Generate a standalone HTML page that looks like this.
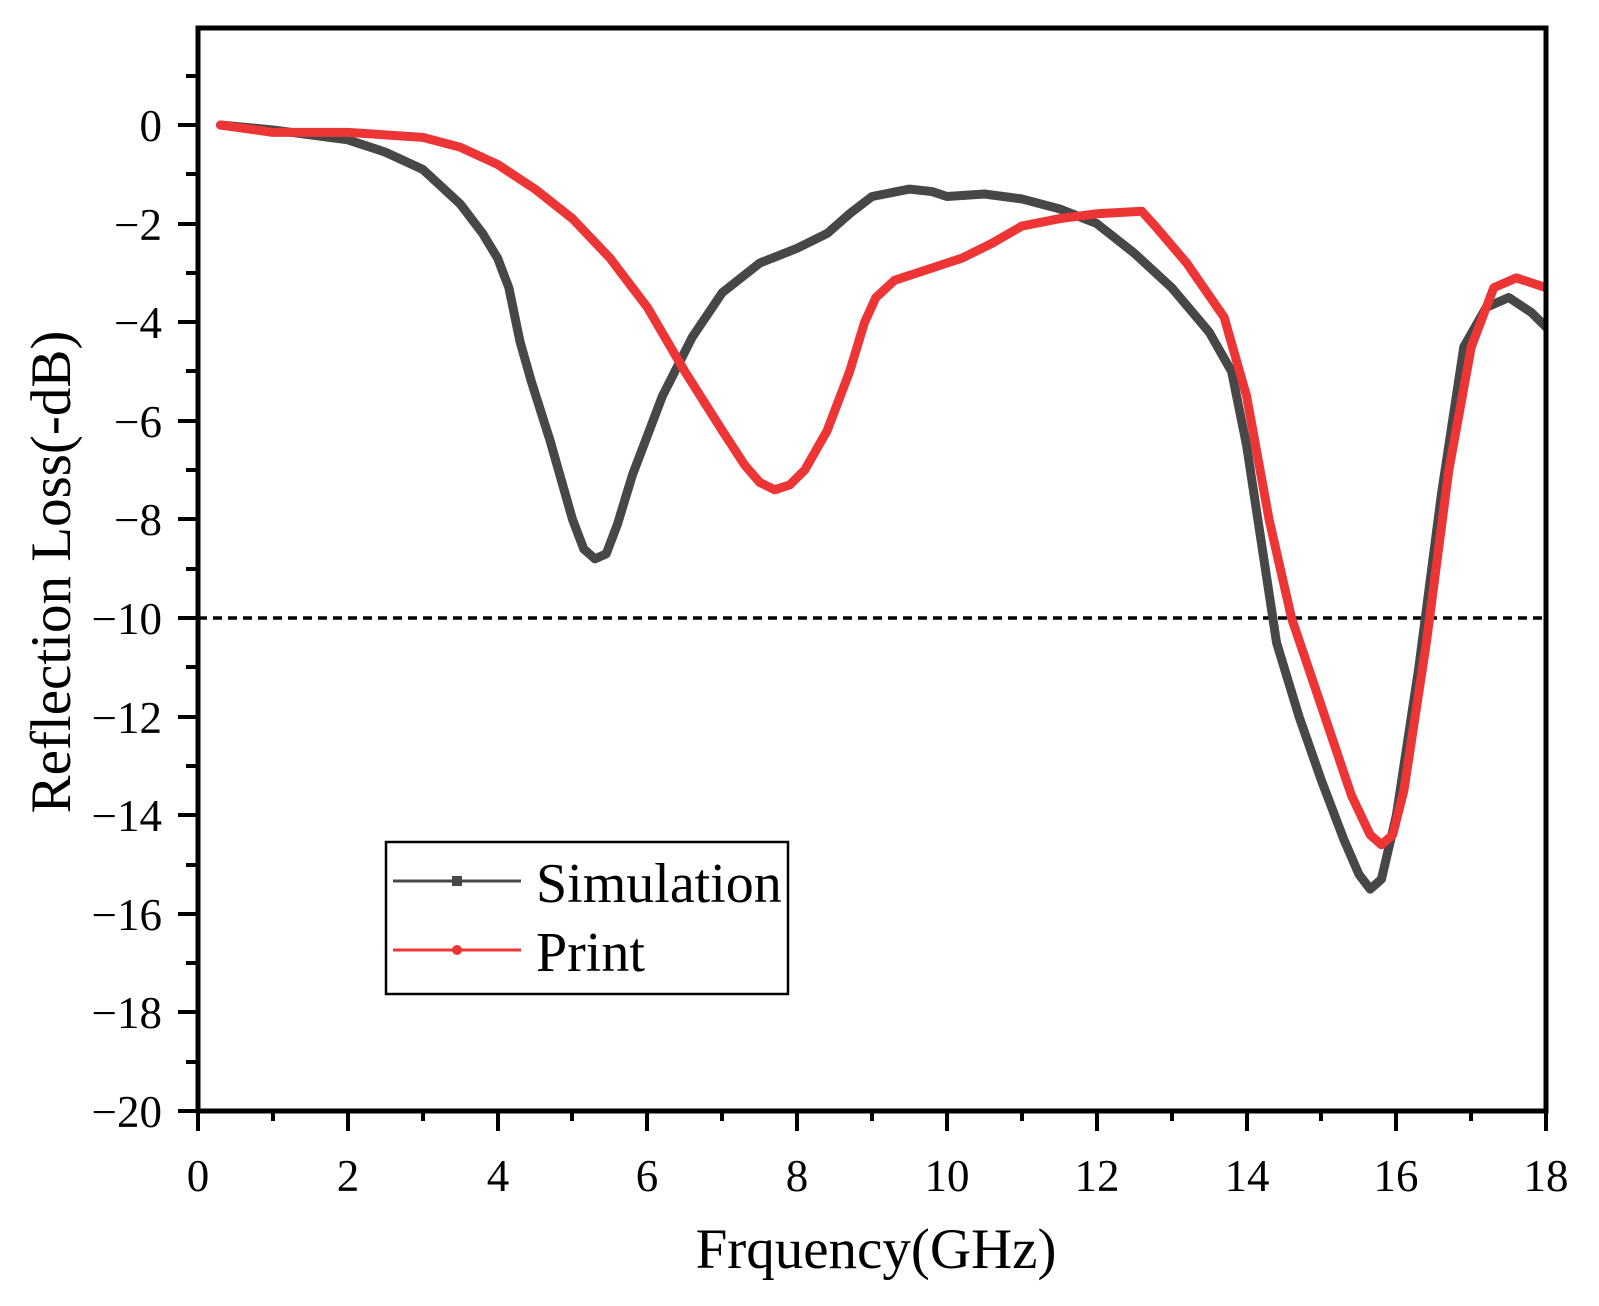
<!DOCTYPE html>
<html><head><meta charset="utf-8"><style>
body{margin:0;background:#fff}
text{font-family:"Liberation Serif",serif;fill:#000}
</style></head><body>
<svg width="1599" height="1301" viewBox="0 0 1599 1301" xmlns="http://www.w3.org/2000/svg">
<defs><clipPath id="c"><rect x="198" y="28" width="1348" height="1083"/></clipPath></defs>
<line x1="198" y1="618" x2="1546" y2="618" stroke="#000" stroke-width="3.5" stroke-dasharray="9,6"/>
<g clip-path="url(#c)">
<g transform="translate(198,125) scale(74.9,-49.3)">
<polyline fill="none" stroke="#474747" stroke-width="9" stroke-linejoin="round" stroke-linecap="round" vector-effect="non-scaling-stroke"
points="0.3,0 1,-0.1 2,-0.3 2.5,-0.55 3,-0.9 3.5,-1.6 3.8,-2.2 4,-2.7 4.15,-3.3 4.3,-4.4 4.45,-5.2 4.7,-6.4 5,-8 5.15,-8.6 5.3,-8.8 5.45,-8.7 5.6,-8.1 5.8,-7.1 6.2,-5.5 6.6,-4.3 7,-3.4 7.5,-2.8 8,-2.5 8.4,-2.2 8.7,-1.8 9,-1.45 9.5,-1.3 9.8,-1.35 10,-1.45 10.5,-1.4 11,-1.5 11.5,-1.7 12,-2 12.5,-2.6 13,-3.3 13.5,-4.2 13.8,-5 14,-6.5 14.2,-8.5 14.4,-10.5 14.7,-12 15,-13.3 15.3,-14.5 15.5,-15.2 15.65,-15.5 15.8,-15.3 16,-14 16.3,-11 16.6,-7.5 16.9,-4.5 17.2,-3.7 17.5,-3.5 17.8,-3.8 18,-4.1"/>
<polyline fill="none" stroke="#ee3535" stroke-width="9" stroke-linejoin="round" stroke-linecap="round" vector-effect="non-scaling-stroke"
points="0.3,0 1,-0.15 2,-0.15 3,-0.25 3.5,-0.45 4,-0.8 4.5,-1.3 5,-1.9 5.5,-2.7 6,-3.7 6.5,-5 7,-6.2 7.3,-6.9 7.5,-7.25 7.7,-7.4 7.9,-7.3 8.1,-7 8.4,-6.2 8.7,-5 8.9,-4 9.05,-3.5 9.3,-3.15 9.8,-2.9 10.2,-2.7 10.6,-2.4 11,-2.05 11.5,-1.9 12,-1.8 12.6,-1.75 12.75,-2 13.2,-2.8 13.7,-3.9 14,-5.5 14.3,-8 14.6,-10 15,-11.8 15.4,-13.6 15.65,-14.4 15.8,-14.6 15.95,-14.4 16.1,-13.5 16.4,-10.5 16.7,-7 17,-4.5 17.3,-3.3 17.6,-3.1 17.8,-3.2 18,-3.3"/>
</g></g>
<rect x="198" y="28" width="1348" height="1083" fill="none" stroke="#000" stroke-width="5"/>
<g stroke="#000" stroke-width="4">
<line x1="198" y1="1111" x2="198" y2="1131"/><line x1="273" y1="1111" x2="273" y2="1121"/>
<line x1="348" y1="1111" x2="348" y2="1131"/><line x1="423" y1="1111" x2="423" y2="1121"/>
<line x1="498" y1="1111" x2="498" y2="1131"/><line x1="572" y1="1111" x2="572" y2="1121"/>
<line x1="647" y1="1111" x2="647" y2="1131"/><line x1="722" y1="1111" x2="722" y2="1121"/>
<line x1="797" y1="1111" x2="797" y2="1131"/><line x1="872" y1="1111" x2="872" y2="1121"/>
<line x1="947" y1="1111" x2="947" y2="1131"/><line x1="1022" y1="1111" x2="1022" y2="1121"/>
<line x1="1097" y1="1111" x2="1097" y2="1131"/><line x1="1172" y1="1111" x2="1172" y2="1121"/>
<line x1="1247" y1="1111" x2="1247" y2="1131"/><line x1="1321" y1="1111" x2="1321" y2="1121"/>
<line x1="1396" y1="1111" x2="1396" y2="1131"/><line x1="1471" y1="1111" x2="1471" y2="1121"/>
<line x1="1546" y1="1111" x2="1546" y2="1131"/>
<line x1="178" y1="1111" x2="198" y2="1111"/><line x1="186" y1="1062" x2="198" y2="1062"/>
<line x1="178" y1="1012" x2="198" y2="1012"/><line x1="186" y1="963" x2="198" y2="963"/>
<line x1="178" y1="914" x2="198" y2="914"/><line x1="186" y1="865" x2="198" y2="865"/>
<line x1="178" y1="815" x2="198" y2="815"/><line x1="186" y1="766" x2="198" y2="766"/>
<line x1="178" y1="717" x2="198" y2="717"/><line x1="186" y1="667" x2="198" y2="667"/>
<line x1="178" y1="618" x2="198" y2="618"/><line x1="186" y1="569" x2="198" y2="569"/>
<line x1="178" y1="519" x2="198" y2="519"/><line x1="186" y1="470" x2="198" y2="470"/>
<line x1="178" y1="421" x2="198" y2="421"/><line x1="186" y1="371" x2="198" y2="371"/>
<line x1="178" y1="322" x2="198" y2="322"/><line x1="186" y1="273" x2="198" y2="273"/>
<line x1="178" y1="224" x2="198" y2="224"/><line x1="186" y1="174" x2="198" y2="174"/>
<line x1="178" y1="125" x2="198" y2="125"/><line x1="186" y1="76" x2="198" y2="76"/>
</g>
<g font-size="45" text-anchor="middle">
<text x="198" y="1191">0</text><text x="348" y="1191">2</text><text x="498" y="1191">4</text>
<text x="647" y="1191">6</text><text x="797" y="1191">8</text><text x="947" y="1191">10</text>
<text x="1097" y="1191">12</text><text x="1247" y="1191">14</text><text x="1396" y="1191">16</text>
<text x="1546" y="1191">18</text>
</g>
<g font-size="45" text-anchor="end">
<text x="162" y="141">0</text><text x="162" y="240">−2</text><text x="162" y="338">−4</text>
<text x="162" y="437">−6</text><text x="162" y="535">−8</text><text x="162" y="634">−10</text>
<text x="162" y="733">−12</text><text x="162" y="831">−14</text><text x="162" y="930">−16</text>
<text x="162" y="1028">−18</text><text x="162" y="1127">−20</text>
</g>
<text x="876" y="1268" font-size="57" text-anchor="middle">Frquency(GHz)</text>
<text transform="translate(70,572) rotate(-90)" font-size="57" text-anchor="middle">Reflection Loss(-dB)</text>
<rect x="386" y="842" width="402" height="152" fill="#fff" stroke="#000" stroke-width="2.5"/>
<line x1="393" y1="881" x2="521" y2="881" stroke="#474747" stroke-width="3"/>
<rect x="452" y="876" width="10" height="10" fill="#474747"/>
<line x1="393" y1="950" x2="521" y2="950" stroke="#ee3535" stroke-width="3"/>
<circle cx="457" cy="950" r="5" fill="#ee3535"/>
<text x="536" y="902" font-size="56">Simulation</text>
<text x="536" y="971" font-size="56">Print</text>
</svg>
</body></html>
